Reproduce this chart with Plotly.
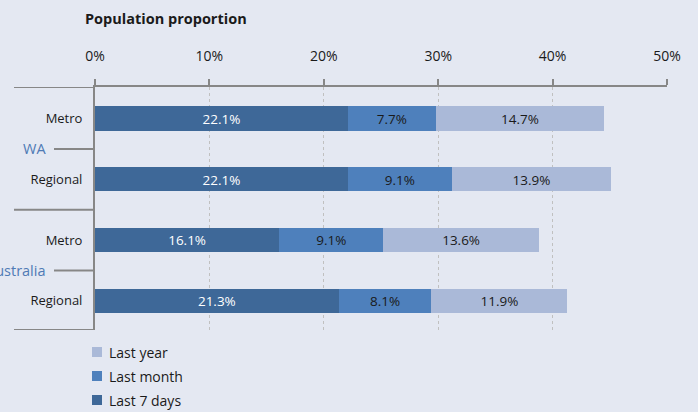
import plotly.graph_objects as go

# Data
categories = ["WA|Metro", "WA|Regional", "Australia|Metro", "Australia|Regional"]
cat_labels = ["Metro", "Regional", "Metro", "Regional"]
groups = ["WA", "Australia"]
series_names = ["Last 7 days", "Last month", "Last year"]
last_7_days = [22.1, 22.1, 16.1, 21.3]
last_month = [7.7, 9.1, 9.1, 8.1]
last_year = [14.7, 13.9, 13.6, 11.9]
x_ticks = [0, 10, 20, 30, 40, 50]
x_tick_labels = ["0%", "10%", "20%", "30%", "40%", "50%"]

BG = "#E4E8F2"
FONT = "Open Sans, Liberation Sans, sans-serif"
GRAY = "#878787"

colors = ["#3E6898", "#4E80BC", "#AAB9D8"]
text_colors = ["white", "#1a1a1a", "#1a1a1a"]
values = [last_7_days, last_month, last_year]

fig = go.Figure()
for name, vals, color, tcolor in zip(series_names, values, colors, text_colors):
    fig.add_trace(go.Bar(
        y=categories, x=vals, name=name, orientation="h",
        marker=dict(color=color, line=dict(width=0)),
        width=0.4,
        text=[f"{v:.1f}%" for v in vals],
        textposition="inside", insidetextanchor="middle",
        textfont=dict(color=tcolor, size=14, family=FONT),
        hoverinfo="skip", showlegend=False,
    ))

L, R, T, B = 95, 31, 87, 82
W, H = 698, 412
pw = W - L - R
ph = H - T - B

def px_x(px):
    return (px - L) / pw

def px_y(py):
    return (H - B - py) / ph

fig.update_layout(
    barmode="stack",
    width=W, height=H,
    margin=dict(l=L, r=R, t=T, b=B, autoexpand=False),
    paper_bgcolor=BG, plot_bgcolor=BG,
    font=dict(family=FONT, size=13, color="#1a1a1a"),
    showlegend=False,
    xaxis=dict(
        side="top", range=[0, 50],
        tickvals=x_ticks, ticktext=x_tick_labels,
        ticks="outside", ticklen=6, tickcolor=GRAY, tickwidth=2,
        ticklabelstandoff=12,
        showline=True, linecolor=GRAY, linewidth=2,
        showgrid=True, gridcolor="#C0C0C0", griddash="dot", gridwidth=1,
        zeroline=False, tickfont=dict(size=14),
        fixedrange=True, automargin=False,
    ),
    yaxis=dict(
        type="category", categoryorder="array", categoryarray=categories,
        tickvals=categories, ticktext=cat_labels,
        autorange=False, range=[3.48, -0.52],
        showline=True, linecolor=GRAY, linewidth=2,
        ticks="", ticklabelstandoff=8,
        showgrid=False, zeroline=False, tickfont=dict(size=13),
        fixedrange=True, automargin=False,
    ),
)

# Title
fig.add_annotation(text="<b>Population proportion</b>", xref="paper", yref="paper",
                   x=px_x(83), y=px_y(18), xanchor="left", yanchor="middle",
                   showarrow=False, font=dict(size=14.5, family=FONT, color="#1a1a1a"))

# Left extension of the top axis line and group separators
for yv in [-0.52, 1.5, 3.48]:
    fig.add_shape(type="line", xref="paper", yref="y",
                  x0=px_x(14), x1=0, y0=yv, y1=yv,
                  line=dict(color=GRAY, width=2), layer="above")

# Group labels with tick lines
for i, g in enumerate(groups):
    yc = 2 * i + 0.5
    fig.add_shape(type="line", xref="paper", yref="y",
                  x0=px_x(54), x1=0, y0=yc, y1=yc,
                  line=dict(color=GRAY, width=2))
    fig.add_annotation(text=g, xref="paper", yref="y",
                       x=px_x(48), y=yc, xanchor="right", yanchor="middle",
                       showarrow=False, font=dict(size=14.5, family=FONT, color="#4F7AB5"))

# Legend (Last year on top)
legend_rows = [352, 376, 400]
for row_y, idx in zip(legend_rows, [2, 1, 0]):
    fig.add_shape(type="rect", xref="paper", yref="paper",
                  x0=px_x(92), x1=px_x(102), y0=px_y(row_y - 5), y1=px_y(row_y + 5),
                  fillcolor=colors[idx], line=dict(width=0))
    fig.add_annotation(text=series_names[idx], xref="paper", yref="paper",
                       x=px_x(107), y=px_y(row_y), xanchor="left", yanchor="middle",
                       showarrow=False, font=dict(size=14, family=FONT, color="#1a1a1a"))

fig.write_html("out.html", config={"displayModeBar": False},
               post_script="document.body.style.margin='0';")
